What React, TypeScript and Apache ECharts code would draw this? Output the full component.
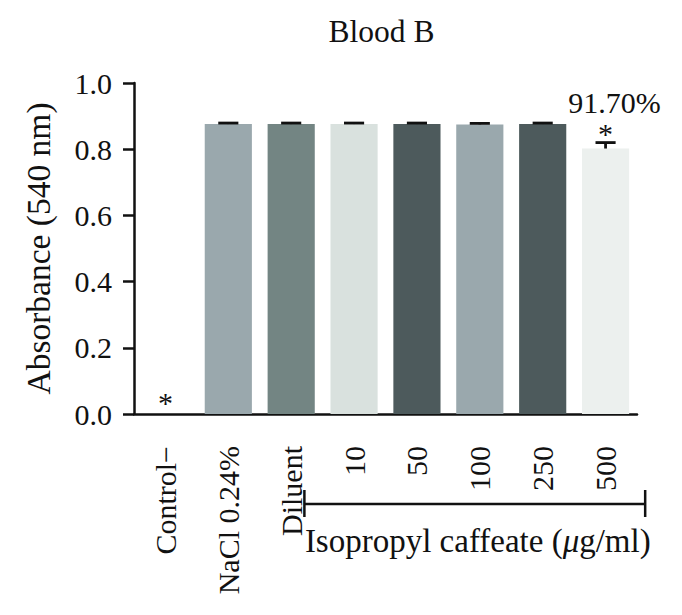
import React, { useEffect, useRef } from "react";
import * as echarts from "echarts";

const categories = ["Control\u2212", "NaCl 0.24%", "Diluent", "10", "50", "100", "250", "500"];
const means = [0, 0.876, 0.876, 0.876, 0.876, 0.875, 0.876, 0.802];
const errors = [0, 0.003, 0.003, 0.003, 0.003, 0.003, 0.003, 0.018];
const barColors = ["#ffffff", "#9aa8ad", "#738583", "#d9e1de", "#4d5a5c", "#9aa8ad", "#4d5a5c", "#ecf0ee"];
const marks = ["*", "", "", "", "", "", "", "*"];
const percentLabels = ["", "", "", "", "", "", "", "91.70%"];
const yTicks = [0, 0.2, 0.4, 0.6, 0.8, 1.0];
const groupLabel = "Isopropyl caffeate (";
const groupFirst = 3;
const groupLast = 7;

const FONT = "\"Liberation Serif\", \"Times New Roman\", Times, serif";
const INK = "#111111";

export default function App() {
  const ref = useRef<HTMLDivElement>(null);
  useEffect(() => {
    if (!ref.current) return;
    const chart = echarts.init(ref.current, undefined, { renderer: "svg" });
    const option: any = {
      animation: false,
      textStyle: { fontFamily: FONT },
      grid: { left: 134, right: 45, top: 83, bottom: 201, containLabel: false },
      xAxis: {
        type: "category",
        data: categories,
        axisLine: { lineStyle: { color: INK, width: 2.5 } },
        axisTick: { alignWithLabel: true, length: 9, lineStyle: { color: INK, width: 2.5 } },
        axisLabel: {
          interval: 0,
          rotate: 90,
          margin: 32,
          color: INK,
          fontFamily: FONT,
          fontSize: 30,
        },
      },
      yAxis: {
        type: "value",
        min: yTicks[0],
        max: yTicks[yTicks.length - 1],
        interval: 0.2,
        name: "Absorbance (540 nm)",
        nameLocation: "middle",
        nameGap: 79,
        nameRotate: 90,
        nameTextStyle: { color: INK, fontFamily: FONT, fontSize: 33.5 },
        axisLine: { show: true, lineStyle: { color: INK, width: 2.5 } },
        axisTick: { show: true, length: 11, lineStyle: { color: INK, width: 2.5 } },
        splitLine: { show: false },
        axisLabel: {
          margin: 22,
          color: INK,
          fontFamily: FONT,
          fontSize: 30,
          formatter: (v: number) => v.toFixed(1),
        },
      },
      series: [
        {
          type: "bar",
          barWidth: "75%",
          data: means.map((v, i) => ({ value: v, itemStyle: { color: barColors[i] } })),
          z: 2,
        },
        {
          type: "custom",
          z: 3,
          data: means.map((v, i) => [i, v, errors[i]]),
          renderItem: (params: any, api: any) => {
            const idx = api.value(0);
            const m = api.value(1);
            const e = api.value(2);
            const base = api.coord([idx, m]);
            const top = api.coord([idx, m + e]);
            const band = api.size([1, 0])[0];
            const half = band * 0.16;
            const children: any[] = [];
            const lw = 2.8;
            if (e > 0) {
              children.push({
                type: "line",
                shape: { x1: top[0], y1: base[1], x2: top[0], y2: top[1] },
                style: { stroke: INK, lineWidth: lw },
              });
              children.push({
                type: "line",
                shape: { x1: top[0] - half, y1: top[1], x2: top[0] + half, y2: top[1] },
                style: { stroke: INK, lineWidth: lw },
              });
            }
            const mk = marks[params.dataIndex];
            if (mk) {
              children.push({
                type: "text",
                style: {
                  text: mk,
                  x: top[0],
                  y: top[1] - (e > 0 ? 9 : 12),
                  textAlign: "center",
                  textVerticalAlign: "middle",
                  fontFamily: FONT,
                  fontSize: 30,
                  lineHeight: 14,
                  fill: INK,
                },
              });
            }
            const pl = percentLabels[params.dataIndex];
            if (pl) {
              children.push({
                type: "text",
                style: {
                  text: pl,
                  x: top[0] + 9,
                  y: top[1] - 40,
                  textAlign: "center",
                  textVerticalAlign: "middle",
                  fontFamily: FONT,
                  fontSize: 30,
                  lineHeight: 24,
                  fill: INK,
                },
              });
            }
            return { type: "group", children };
          },
        },
      ],
    };
    chart.setOption(option);

    const p1 = chart.convertToPixel({ xAxisIndex: 0 }, groupFirst) as number;
    const p2 = chart.convertToPixel({ xAxisIndex: 0 }, groupLast) as number;
    const y0 = chart.convertToPixel({ yAxisIndex: 0 }, 0) as number;
    const band = p2 - (chart.convertToPixel({ xAxisIndex: 0 }, groupLast - 1) as number);
    const left = p1 - band * 0.79;
    const right = p2 + band * 0.63;
    const by = y0 + 90;
    const plotCenter = (134 + (682 - 45)) / 2;
    chart.setOption({
      graphic: [
        {
          type: "text",
          x: plotCenter - 4,
          y: 15,
          style: { text: "Blood B", textAlign: "center", fontFamily: FONT, fontSize: 31.5, fill: INK },
        },
        {
          type: "line",
          shape: { x1: left, y1: by, x2: right, y2: by },
          style: { stroke: INK, lineWidth: 2.5 },
        },
        {
          type: "line",
          shape: { x1: left, y1: by - 14, x2: left, y2: by + 13 },
          style: { stroke: INK, lineWidth: 2.5 },
        },
        {
          type: "line",
          shape: { x1: right, y1: by - 14, x2: right, y2: by + 13 },
          style: { stroke: INK, lineWidth: 2.5 },
        },
        {
          type: "text",
          x: (left + right) / 2 + 3,
          y: by + 20,
          style: {
            text: "{n|" + groupLabel + "}{i|\u03bc}{n|g/ml)}",
            textAlign: "center",
            rich: {
              n: { fontFamily: FONT, fontSize: 33, fill: INK, color: INK },
              i: { fontFamily: FONT, fontSize: 33, fontStyle: "italic", fill: INK, color: INK },
            },
          },
        },
      ],
    });

    return () => chart.dispose();
  }, []);
  return <div ref={ref} style={{ position: "absolute", left: 0, top: 0, width: 682, height: 615 }} />;
}
